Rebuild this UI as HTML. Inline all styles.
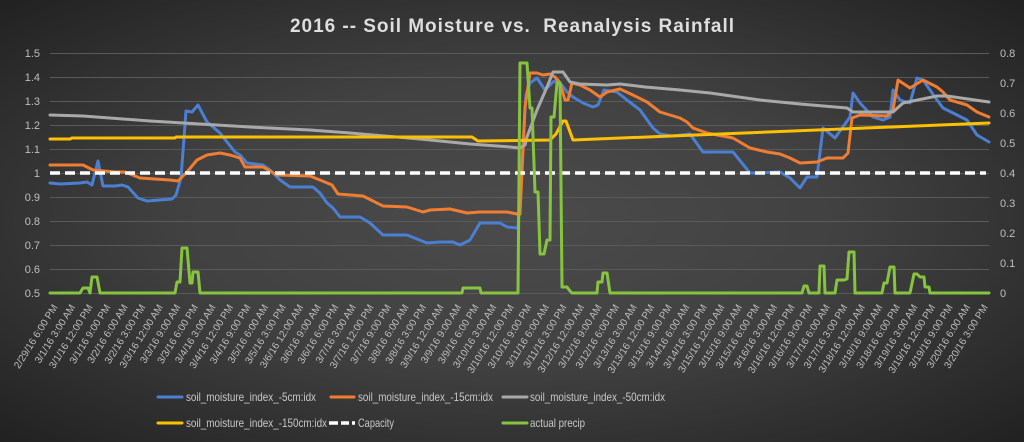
<!DOCTYPE html>
<html>
<head>
<meta charset="utf-8">
<style>
html,body{margin:0;padding:0;background:#2a2a2a;}
svg{display:block;}
text{font-family:"Liberation Sans",sans-serif;}
</style>
</head>
<body>
<svg xmlns="http://www.w3.org/2000/svg" width="1024" height="442" viewBox="0 0 1024 442">
<defs>
<radialGradient id="bg" cx="0.5" cy="0.5" r="0.72">
<stop offset="0" stop-color="#4b4b4b"/>
<stop offset="0.45" stop-color="#414141"/>
<stop offset="1" stop-color="#202020"/>
</radialGradient>
</defs>
<rect x="0" y="0" width="1024" height="442" fill="url(#bg)"/>

<!-- title -->
<text x="290" y="32" font-size="19" font-weight="bold" fill="#dedede" textLength="444" lengthAdjust="spacing" style="white-space:pre">2016 -- Soil Moisture vs.  Reanalysis Rainfall</text>

<!-- gridlines -->
<g stroke="#5a5a5a" stroke-width="1">
<line x1="50" y1="53.5" x2="989" y2="53.5"/>
<line x1="50" y1="77.5" x2="989" y2="77.5"/>
<line x1="50" y1="101.5" x2="989" y2="101.5"/>
<line x1="50" y1="125.5" x2="989" y2="125.5"/>
<line x1="50" y1="149.5" x2="989" y2="149.5"/>
<line x1="50" y1="173.5" x2="989" y2="173.5"/>
<line x1="50" y1="197.5" x2="989" y2="197.5"/>
<line x1="50" y1="221.5" x2="989" y2="221.5"/>
<line x1="50" y1="245.5" x2="989" y2="245.5"/>
<line x1="50" y1="269.5" x2="989" y2="269.5"/>
<line x1="50" y1="293.5" x2="989" y2="293.5"/>
</g>

<!-- left axis -->
<g font-size="11" fill="#bfbfbf" text-anchor="end">
<text x="40" y="57">1.5</text>
<text x="40" y="81">1.4</text>
<text x="40" y="105">1.3</text>
<text x="40" y="129">1.2</text>
<text x="40" y="153">1.1</text>
<text x="40" y="177">1</text>
<text x="40" y="201">0.9</text>
<text x="40" y="225">0.8</text>
<text x="40" y="249">0.7</text>
<text x="40" y="273">0.6</text>
<text x="40" y="297">0.5</text>
</g>
<!-- right axis -->
<g font-size="11" fill="#bfbfbf" text-anchor="start">
<text x="1000" y="57">0.8</text>
<text x="1000" y="87">0.7</text>
<text x="1000" y="117">0.6</text>
<text x="1000" y="147">0.5</text>
<text x="1000" y="177">0.4</text>
<text x="1000" y="207">0.3</text>
<text x="1000" y="237">0.2</text>
<text x="1000" y="267">0.1</text>
<text x="1000" y="297">0</text>
</g>

<!-- series -->
<g fill="none" stroke-width="3" stroke-linejoin="round" stroke-linecap="round">
<polyline stroke="#4a7fd2" points="50,183 60,184 80,183 87,182 92,185 98,161 103,186 115,186 122,185 128,187 138,198 147,201 172,199 176,195 181,178 186,111 192,112 198,105 207,122 220,133 227,142 235,152 240,155 247,163 263,165 270,170 280,180 290,187 313,187 320,193 327,203 333,208 340,217 360,217 370,223 383,235 407,235 427,243 440,242 453,242 460,245 470,240 480,223 500,223 507,227 518,228 526,95 530,83 537,78 545,90 553,82 558,80 567,92 573,97 583,103 593,107 598,105 604,90 617,92 627,100 640,110 653,128 660,134 672,136 690,134 703,152 733,152 750,173 757,173 780,172 790,178 800,188 807,177 817,177 823,128 835,138 850,117 853,93 860,103 873,117 883,120 890,117 893,90 900,100 910,103 917,78 923,80 937,100 943,108 953,113 967,120 977,135 989,142"/>
<polyline stroke="#f07d32" points="50,165 83,165 93,170 115,172 125,172 140,178 170,180 178,181 187,172 197,160 207,155 220,153 230,155 240,158 245,167 263,167 277,175 310,176 320,180 332,185 338,194 363,196 383,206 407,207 423,212 430,210 450,209 467,213 480,212 507,212 517,214 520,214 525,107 530,73 537,73 543,75 550,74 555,77 560,83 565,100 568,100 572,83 580,85 590,90 600,97 607,92 620,89 633,95 647,102 660,112 680,118 687,122 693,128 707,133 733,138 750,148 767,152 780,154 790,158 800,163 817,162 827,158 843,158 848,153 852,118 860,115 887,116 893,110 898,80 910,88 923,80 937,87 943,92 950,100 967,105 977,112 989,117"/>
<polyline stroke="#a9a9a9" points="50,115 83,116 150,121 250,127 310,130 350,133 420,139 450,142 470,144 510,147 520,148 525,145 527,137 537,110 547,87 553,72 563,72 570,82 580,84 607,85 620,84 645,87 680,90 710,93 760,100 800,104 847,108 853,112 893,112 903,103 937,96 947,96 989,102"/>
<polyline stroke="#ffc000" points="50,139 70,139 72,138 175,138 176,137 472,137 478,141 550,140 556,134 563,121 566,121 573,140 989,123"/>
<line x1="50" y1="173" x2="986" y2="173" stroke="#ffffff" stroke-width="3.5" stroke-dasharray="10,5" stroke-linecap="butt"/>
<polyline stroke="#86c440" points="50,293 80,293 83,288 88,288 90,293 92,277 97,277 100,293 175,293 177,282 180,282 182,248 187,248 190,283 192,283 193,272 198,272 200,293 462,293 463,288 480,288 481,293 518,293 520,63 527,63 530,108 532,108 535,192 538,192 540,254 544,254 547,240 550,240 551,117 554,117 557,83 560,83 562,287 567,287 570,291 572,293 597,293 598,282 602,282 603,273 607,273 610,293 802,293 804,286 807,286 809,293 819,293 820,266 824,266 825,293 835,293 837,280 844,280 847,279 849,252 854,252 855,293 882,293 884,283 887,283 890,267 894,267 895,293 910,293 914,274 917,274 920,277 924,277 925,287 929,287 930,293 989,293"/>
</g>

<!-- x axis labels -->
<g font-size="10" fill="#bfbfbf" text-anchor="end">
<text transform="translate(58.0,307) rotate(-58)">2/29/16 6:00 PM</text>
<text transform="translate(75.55,307) rotate(-58)">3/1/16 3:00 AM</text>
<text transform="translate(93.1,307) rotate(-58)">3/1/16 12:00 PM</text>
<text transform="translate(110.65,307) rotate(-58)">3/1/16 9:00 PM</text>
<text transform="translate(128.2,307) rotate(-58)">3/2/16 6:00 AM</text>
<text transform="translate(145.75,307) rotate(-58)">3/2/16 3:00 PM</text>
<text transform="translate(163.3,307) rotate(-58)">3/3/16 12:00 AM</text>
<text transform="translate(180.85,307) rotate(-58)">3/3/16 9:00 AM</text>
<text transform="translate(198.4,307) rotate(-58)">3/3/16 6:00 PM</text>
<text transform="translate(215.95,307) rotate(-58)">3/4/16 3:00 AM</text>
<text transform="translate(233.5,307) rotate(-58)">3/4/16 12:00 PM</text>
<text transform="translate(251.05,307) rotate(-58)">3/4/16 9:00 PM</text>
<text transform="translate(268.6,307) rotate(-58)">3/5/16 6:00 AM</text>
<text transform="translate(286.15,307) rotate(-58)">3/5/16 3:00 PM</text>
<text transform="translate(303.7,307) rotate(-58)">3/6/16 12:00 AM</text>
<text transform="translate(321.25,307) rotate(-58)">3/6/16 9:00 AM</text>
<text transform="translate(338.8,307) rotate(-58)">3/6/16 6:00 PM</text>
<text transform="translate(356.35,307) rotate(-58)">3/7/16 3:00 AM</text>
<text transform="translate(373.9,307) rotate(-58)">3/7/16 12:00 PM</text>
<text transform="translate(391.45,307) rotate(-58)">3/7/16 9:00 PM</text>
<text transform="translate(409.0,307) rotate(-58)">3/8/16 6:00 AM</text>
<text transform="translate(426.55,307) rotate(-58)">3/8/16 3:00 PM</text>
<text transform="translate(444.1,307) rotate(-58)">3/9/16 12:00 AM</text>
<text transform="translate(461.65,307) rotate(-58)">3/9/16 9:00 AM</text>
<text transform="translate(479.2,307) rotate(-58)">3/9/16 6:00 PM</text>
<text transform="translate(496.75,307) rotate(-58)">3/10/16 3:00 AM</text>
<text transform="translate(514.3,307) rotate(-58)">3/10/16 12:00 PM</text>
<text transform="translate(531.85,307) rotate(-58)">3/10/16 9:00 PM</text>
<text transform="translate(549.4,307) rotate(-58)">3/11/16 6:00 AM</text>
<text transform="translate(566.95,307) rotate(-58)">3/11/16 3:00 PM</text>
<text transform="translate(584.5,307) rotate(-58)">3/12/16 12:00 AM</text>
<text transform="translate(602.05,307) rotate(-58)">3/12/16 9:00 AM</text>
<text transform="translate(619.6,307) rotate(-58)">3/12/16 6:00 PM</text>
<text transform="translate(637.15,307) rotate(-58)">3/13/16 3:00 AM</text>
<text transform="translate(654.7,307) rotate(-58)">3/13/16 12:00 PM</text>
<text transform="translate(672.25,307) rotate(-58)">3/13/16 9:00 PM</text>
<text transform="translate(689.8,307) rotate(-58)">3/14/16 6:00 AM</text>
<text transform="translate(707.35,307) rotate(-58)">3/14/16 3:00 PM</text>
<text transform="translate(724.9,307) rotate(-58)">3/15/16 12:00 AM</text>
<text transform="translate(742.45,307) rotate(-58)">3/15/16 9:00 AM</text>
<text transform="translate(760.0,307) rotate(-58)">3/15/16 6:00 PM</text>
<text transform="translate(777.55,307) rotate(-58)">3/16/16 3:00 AM</text>
<text transform="translate(795.1,307) rotate(-58)">3/16/16 12:00 PM</text>
<text transform="translate(812.65,307) rotate(-58)">3/16/16 9:00 PM</text>
<text transform="translate(830.2,307) rotate(-58)">3/17/16 6:00 AM</text>
<text transform="translate(847.75,307) rotate(-58)">3/17/16 3:00 PM</text>
<text transform="translate(865.3,307) rotate(-58)">3/18/16 12:00 AM</text>
<text transform="translate(882.85,307) rotate(-58)">3/18/16 9:00 AM</text>
<text transform="translate(900.4,307) rotate(-58)">3/18/16 6:00 PM</text>
<text transform="translate(917.95,307) rotate(-58)">3/19/16 3:00 AM</text>
<text transform="translate(935.5,307) rotate(-58)">3/19/16 12:00 PM</text>
<text transform="translate(953.05,307) rotate(-58)">3/19/16 9:00 PM</text>
<text transform="translate(970.6,307) rotate(-58)">3/20/16 6:00 AM</text>
<text transform="translate(988.15,307) rotate(-58)">3/20/16 3:00 PM</text>
</g>

<!-- legend -->
<g stroke-width="3" stroke-linecap="round">
<line x1="158" y1="397" x2="182" y2="397" stroke="#4a7fd2"/>
<line x1="331" y1="397" x2="354" y2="397" stroke="#f07d32"/>
<line x1="503" y1="397" x2="527" y2="397" stroke="#a9a9a9"/>
<line x1="158" y1="423" x2="182" y2="423" stroke="#ffc000"/>
<line x1="503" y1="423" x2="527" y2="423" stroke="#86c440"/>
</g>
<g stroke="#ffffff" stroke-width="3.5" stroke-linecap="butt">
<line x1="329" y1="423" x2="338" y2="423"/>
<line x1="341" y1="423" x2="349" y2="423"/>
<line x1="352" y1="423" x2="355" y2="423"/>
</g>
<g font-size="12" fill="#c8c8c8">
<text x="186" y="401" textLength="130" lengthAdjust="spacingAndGlyphs">soil_moisture_index_-5cm:idx</text>
<text x="358" y="401" textLength="135" lengthAdjust="spacingAndGlyphs">soil_moisture_index_-15cm:idx</text>
<text x="530" y="401" textLength="135" lengthAdjust="spacingAndGlyphs">soil_moisture_index_-50cm:idx</text>
<text x="186" y="427" textLength="141" lengthAdjust="spacingAndGlyphs">soil_moisture_index_-150cm:idx</text>
<text x="358" y="427" textLength="36" lengthAdjust="spacingAndGlyphs">Capacity</text>
<text x="530" y="427" textLength="55" lengthAdjust="spacingAndGlyphs">actual precip</text>
</g>
</svg>
</body>
</html>
